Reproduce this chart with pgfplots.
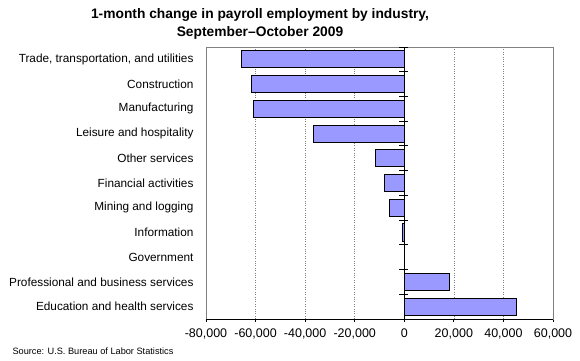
\documentclass[border=0pt]{standalone}
\usepackage{fontspec}
\setmainfont{Liberation Sans}
\usepackage{pgfplots}
\pgfplotsset{compat=1.18}
\definecolor{barfill}{HTML}{9999FF}
\definecolor{framegray}{HTML}{808080}
\begin{document}
\begin{tikzpicture}[x=1pt,y=1pt]
\path[use as bounding box] (0,0) rectangle (580,360);
\node[font=\bfseries\fontsize{13.8}{18}\selectfont, align=center] at (260,336) {1-month change in payroll employment by industry,\\September--October 2009};
\node[font=\fontsize{9.2}{10}\selectfont, anchor=west] at (9,8.5) {Source: U.S. Bureau of Labor Statistics};
\begin{axis}[
  at={(206pt,41pt)}, anchor=south west,
  width=347pt, height=272pt, scale only axis,
  xbar, bar width=0.69,
  xmin=-80000, xmax=60000,
  ymin=-0.5, ymax=10.5, y dir=reverse,
  xtick={-80000,-60000,-40000,-20000,0,20000,40000,60000},
  ytick={0,1,2,3,4,5,6,7,8,9,10},
  yticklabels={{Trade, transportation, and utilities},Construction,Manufacturing,{Leisure and hospitality},{Other services},{Financial activities},{Mining and logging},Information,Government,{Professional and business services},{Education and health services}},
  /pgf/number format/assume math mode=true,
  /pgf/number format/1000 sep={,},
  scaled x ticks=false,
  yticklabel style={font=\fontsize{11.8}{13}\selectfont, black, xshift=-6pt},
  xticklabel style={font=\fontsize{12.5}{14}\selectfont, black, yshift=-3pt},
  ytick style={draw=none},
  xtick style={black, line width=0.8pt},
  major tick length=3pt,
  xtick pos=bottom,
  tick align=outside,
  xmajorgrids,
  grid style={dotted, gray, line width=0.7pt},
  axis line style={framegray, line width=0.8pt},
  clip=false,
]
\addplot[fill=barfill, draw=black, line width=0.9pt] coordinates {
(-65800,0) (-61700,1) (-60900,2) (-36700,3) (-11700,4) (-8100,5) (-6000,6) (-800,7) (0,8) (18100,9) (45300,10)
};
\draw[black, line width=1pt] (axis cs:-80000,10.5) -- (axis cs:60000,10.5);
\draw[black, line width=1pt] (axis cs:0,-0.5) -- (axis cs:0,10.5);
\pgfplotsinvokeforeach{-0.5,0.5,1.5,2.5,3.5,4.5,5.5,6.5,7.5,8.5,9.5}{
  \draw[black, line width=1pt] ([xshift=-5pt]axis cs:0,#1) -- ([xshift=4pt]axis cs:0,#1);
}
\end{axis}
\end{tikzpicture}
\end{document}
